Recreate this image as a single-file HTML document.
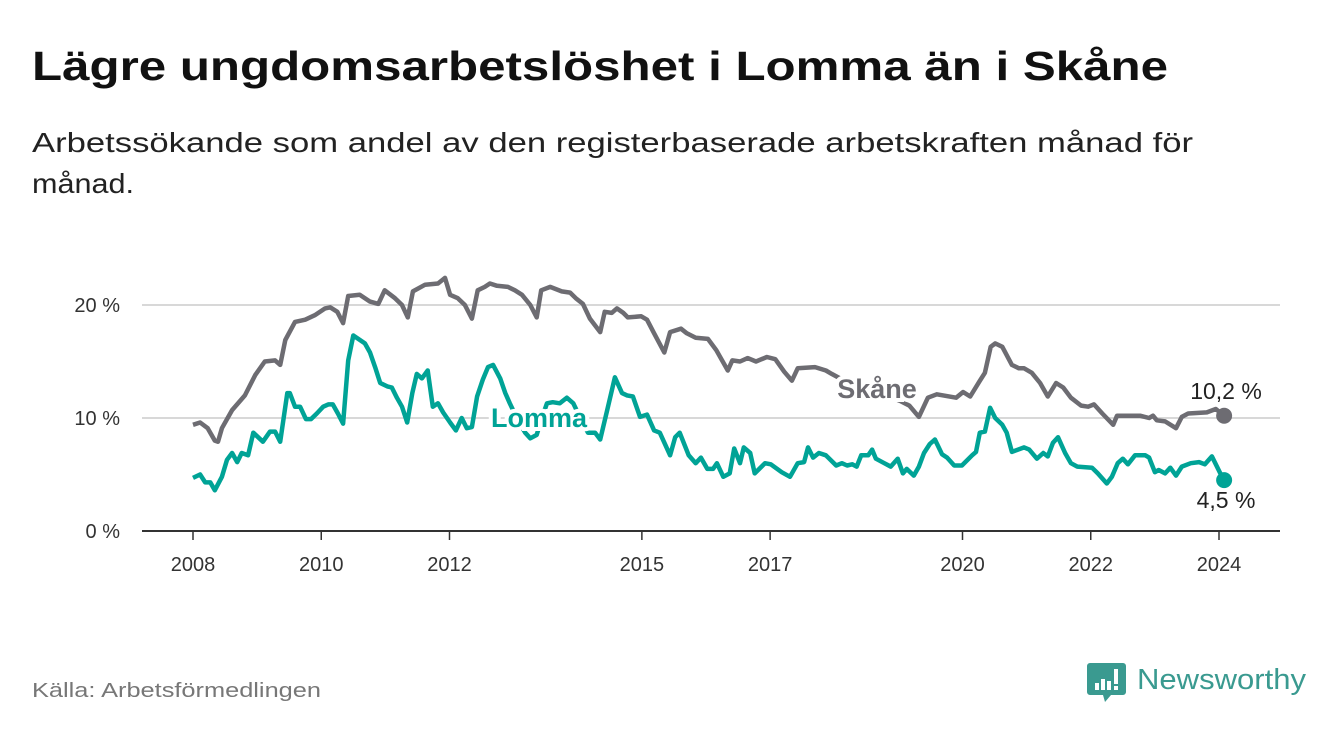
<!DOCTYPE html>
<html><head><meta charset="utf-8">
<style>
html,body{margin:0;padding:0;background:#fff;}
svg{display:block;font-family:"Liberation Sans",sans-serif;}
</style></head>
<body>
<svg id="chart" width="1340" height="734" viewBox="0 0 1340 734" xmlns="http://www.w3.org/2000/svg">
<text x="32" y="80" font-size="41" font-weight="bold" fill="#111" textLength="1136" lengthAdjust="spacingAndGlyphs">Lägre ungdomsarbetslöshet i Lomma än i Skåne</text>
<text x="32" y="152" font-size="28" fill="#222" textLength="1161" lengthAdjust="spacingAndGlyphs">Arbetssökande som andel av den registerbaserade arbetskraften månad för</text>
<text x="32" y="193" font-size="28" fill="#222" textLength="102" lengthAdjust="spacingAndGlyphs">månad.</text>
<g id="grid"></g>
<g id="yticks"></g>
<g id="xticks"></g>
<g id="lines"></g>
<g id="labels"></g>
<text x="32" y="697" font-size="20" fill="#777" textLength="289" lengthAdjust="spacingAndGlyphs">Källa: Arbetsförmedlingen</text>
<g>
<path d="M1090 663 h33 a3 3 0 0 1 3 3 v26 a3 3 0 0 1 -3 3 h-12 l-6 7 l-2 -7 h-13 a3 3 0 0 1 -3 -3 v-26 a3 3 0 0 1 3 -3z" fill="#3a9a90"/>
<rect x="1095" y="683" width="4" height="7" fill="#fff"/>
<rect x="1101" y="679" width="4" height="11" fill="#fff"/>
<rect x="1107" y="681" width="4" height="9" fill="#fff"/>
<rect x="1114" y="669" width="4" height="15" fill="#fff"/>
<rect x="1114" y="686" width="4" height="4" fill="#fff"/>
<text x="1137" y="689" font-size="29" fill="#3a9a90" textLength="169" lengthAdjust="spacingAndGlyphs">Newsworthy</text>
</g>
</svg>
<script>
const yTicks=[0,10,20];
const yTickLabels=["0 %","10 %","20 %"];
const xTicks=[2008,2010,2012,2015,2017,2020,2022,2024];
const skaneDates=[2008.00,2008.11,2008.23,2008.34,2008.39,2008.45,2008.61,2008.81,2008.97,2009.12,2009.28,2009.36,2009.44,2009.59,2009.75,2009.90,2010.06,2010.14,2010.25,2010.34,2010.42,2010.60,2010.76,2010.89,2010.99,2011.15,2011.26,2011.35,2011.43,2011.62,2011.82,2011.93,2012.01,2012.13,2012.24,2012.35,2012.44,2012.55,2012.63,2012.74,2012.91,2013.02,2013.13,2013.26,2013.36,2013.43,2013.57,2013.75,2013.88,2013.97,2014.08,2014.19,2014.35,2014.42,2014.53,2014.61,2014.71,2014.78,2014.99,2015.08,2015.19,2015.35,2015.44,2015.61,2015.70,2015.84,2016.03,2016.16,2016.34,2016.41,2016.53,2016.65,2016.78,2016.95,2017.08,2017.22,2017.34,2017.43,2017.70,2017.87,2017.96,2018.09,2018.40,2018.71,2019.03,2019.17,2019.32,2019.46,2019.60,2019.90,2020.01,2020.12,2020.26,2020.35,2020.44,2020.51,2020.62,2020.77,2020.88,2020.96,2021.08,2021.21,2021.33,2021.46,2021.57,2021.69,2021.85,2021.96,2022.05,2022.18,2022.35,2022.41,2022.77,2022.91,2022.97,2023.03,2023.16,2023.33,2023.42,2023.52,2023.81,2023.95,2024.08];
const skaneValues=[9.4,9.6,9.1,8.0,7.9,9.1,10.7,12.0,13.8,15.0,15.1,14.7,16.9,18.5,18.7,19.1,19.7,19.8,19.4,18.4,20.8,20.9,20.3,20.1,21.3,20.6,20.0,18.9,21.2,21.8,21.9,22.4,20.9,20.6,20.0,18.8,21.3,21.6,21.9,21.7,21.6,21.3,20.9,20.0,18.9,21.3,21.6,21.2,21.1,20.6,20.1,18.8,17.6,19.4,19.3,19.7,19.3,18.9,19.0,18.7,17.5,15.8,17.6,17.9,17.5,17.1,17.0,16.0,14.2,15.1,15.0,15.3,15.0,15.4,15.2,14.1,13.3,14.4,14.5,14.2,13.9,13.5,12.8,12.2,11.5,11.1,10.1,11.8,12.1,11.8,12.3,11.9,13.2,14.0,16.3,16.6,16.3,14.7,14.4,14.4,14.0,13.1,11.9,13.1,12.7,11.8,11.1,11.0,11.2,10.4,9.4,10.2,10.2,10.0,10.2,9.8,9.7,9.1,10.1,10.4,10.5,10.8,10.2];
const lommaDates=[2008.00,2008.11,2008.19,2008.27,2008.34,2008.45,2008.53,2008.61,2008.69,2008.76,2008.86,2008.94,2009.09,2009.20,2009.28,2009.36,2009.47,2009.51,2009.59,2009.67,2009.76,2009.84,2009.93,2010.03,2010.11,2010.18,2010.26,2010.34,2010.42,2010.50,2010.68,2010.76,2010.84,2010.92,2011.03,2011.10,2011.18,2011.26,2011.34,2011.42,2011.49,2011.57,2011.66,2011.74,2011.82,2011.90,2012.01,2012.10,2012.19,2012.27,2012.35,2012.43,2012.52,2012.60,2012.68,2012.79,2012.87,2012.94,2013.05,2013.18,2013.26,2013.36,2013.44,2013.52,2013.61,2013.72,2013.83,2013.93,2014.04,2014.16,2014.27,2014.35,2014.46,2014.58,2014.69,2014.77,2014.86,2014.97,2015.08,2015.19,2015.28,2015.44,2015.52,2015.59,2015.73,2015.84,2015.92,2016.02,2016.11,2016.17,2016.27,2016.37,2016.44,2016.53,2016.59,2016.69,2016.76,2016.92,2017.01,2017.18,2017.31,2017.43,2017.53,2017.59,2017.67,2017.76,2017.87,2018.03,2018.12,2018.20,2018.28,2018.35,2018.42,2018.53,2018.59,2018.65,2018.78,2018.88,2018.99,2019.07,2019.13,2019.24,2019.32,2019.40,2019.49,2019.57,2019.68,2019.76,2019.87,2019.99,2020.15,2020.21,2020.27,2020.35,2020.43,2020.51,2020.62,2020.69,2020.77,2020.96,2021.04,2021.16,2021.26,2021.33,2021.41,2021.49,2021.60,2021.69,2021.79,2022.02,2022.11,2022.25,2022.33,2022.42,2022.50,2022.58,2022.69,2022.85,2022.91,2023.00,2023.06,2023.16,2023.24,2023.33,2023.42,2023.56,2023.69,2023.78,2023.89,2024.02,2024.08];
const lommaValues=[4.7,5.0,4.3,4.3,3.6,4.8,6.3,6.9,6.1,6.9,6.7,8.7,7.9,8.8,8.8,7.9,12.2,12.2,11.0,11.0,9.9,9.9,10.4,11.0,11.2,11.2,10.4,9.5,15.1,17.3,16.6,15.8,14.5,13.1,12.8,12.7,11.8,11.0,9.6,12.2,13.9,13.5,14.2,11.0,11.3,10.5,9.6,8.9,10.0,9.1,9.2,11.9,13.4,14.5,14.7,13.5,12.2,11.3,10.0,8.7,8.2,8.5,10.0,11.3,11.4,11.3,11.8,11.3,10.0,8.7,8.7,8.1,10.7,13.6,12.2,12.0,11.9,10.1,10.3,8.9,8.7,6.7,8.3,8.7,6.7,6.0,6.5,5.5,5.5,6.0,4.8,5.1,7.3,6.0,7.4,6.9,5.1,6.0,5.9,5.2,4.8,6.0,6.1,7.4,6.5,6.9,6.7,5.8,6.0,5.8,5.9,5.7,6.7,6.7,7.2,6.4,6.0,5.7,6.4,5.1,5.5,4.9,5.7,6.9,7.7,8.1,6.8,6.5,5.8,5.8,6.7,7.0,8.7,8.8,10.9,10.0,9.4,8.7,7.0,7.4,7.2,6.4,6.9,6.6,7.8,8.3,6.9,6.0,5.7,5.6,5.1,4.2,4.8,6.0,6.4,5.9,6.7,6.7,6.5,5.2,5.4,5.1,5.6,4.9,5.7,6.0,6.1,5.9,6.6,5.1,4.5];
const skaneEndLabel="10,2 %";
const lommaEndLabel="4,5 %";

const NS="http://www.w3.org/2000/svg";
const X0=142,X1=1280;
function xS(t){return 193+(t-2008)*64.125;}
function yS(v){return 531-v*11.3;}
function mk(tag,attrs,parent){const e=document.createElementNS(NS,tag);for(const k in attrs)e.setAttribute(k,attrs[k]);parent.appendChild(e);return e;}
const grid=document.getElementById('grid'),yt=document.getElementById('yticks'),xt=document.getElementById('xticks'),lines=document.getElementById('lines'),labels=document.getElementById('labels');
yTicks.forEach((v,i)=>{
  const l=mk('line',{x1:X0,x2:X1,y1:yS(v),y2:yS(v),stroke:v===0?'#333':'#d8d8d8','stroke-width':2},grid);
  
  
  const t=mk('text',{x:120,y:yS(v)+7,'text-anchor':'end','font-size':20,fill:'#333'},yt);
  
  
  t.textContent=yTickLabels[i];
});
xTicks.forEach(y=>{
  const tk=mk('line',{x1:xS(y),x2:xS(y),y1:532,y2:540,stroke:'#333','stroke-width':1.5},xt);
  
  
  const t=mk('text',{x:xS(y),y:571,'text-anchor':'middle','font-size':20,fill:'#333'},xt);
  
  
  t.textContent=y;
});
function path(d,v){return d.map((t,i)=>(i?'L':'M')+xS(t).toFixed(1)+' '+yS(v[i]).toFixed(1)).join(' ');}
const ps=mk('path',{d:path(skaneDates,skaneValues),fill:'none',stroke:'#6d6c72','stroke-width':4.5,'stroke-linejoin':'round'},lines);


const pl=mk('path',{d:path(lommaDates,lommaValues),fill:'none',stroke:'#00a396','stroke-width':4.5,'stroke-linejoin':'round'},lines);


const sl=skaneDates.length-1,ll=lommaDates.length-1;
const ds=mk('circle',{cx:xS(skaneDates[sl]),cy:yS(skaneValues[sl]),r:8,fill:'#6d6c72'},lines);


const dl=mk('circle',{cx:xS(lommaDates[ll]),cy:yS(lommaValues[ll]),r:8,fill:'#00a396'},lines);


const lb1=mk('text',{x:877,y:398,'text-anchor':'middle','font-size':27,'font-weight':'bold',fill:'#6d6c72',stroke:'#fff','stroke-width':8,'paint-order':'stroke'},labels);


lb1.textContent='Skåne';
const lb2=mk('text',{x:539,y:427,'text-anchor':'middle','font-size':27,'font-weight':'bold',fill:'#00a396',stroke:'#fff','stroke-width':8,'paint-order':'stroke'},labels);


lb2.textContent='Lomma';
const e1=mk('text',{x:1226,y:399,'text-anchor':'middle','font-size':23,fill:'#222',stroke:'#fff','stroke-width':6,'paint-order':'stroke'},labels);


e1.textContent=skaneEndLabel;
const e2=mk('text',{x:1226,y:508,'text-anchor':'middle','font-size':23,fill:'#222',stroke:'#fff','stroke-width':6,'paint-order':'stroke'},labels);


e2.textContent=lommaEndLabel;
</script>
</body></html>
